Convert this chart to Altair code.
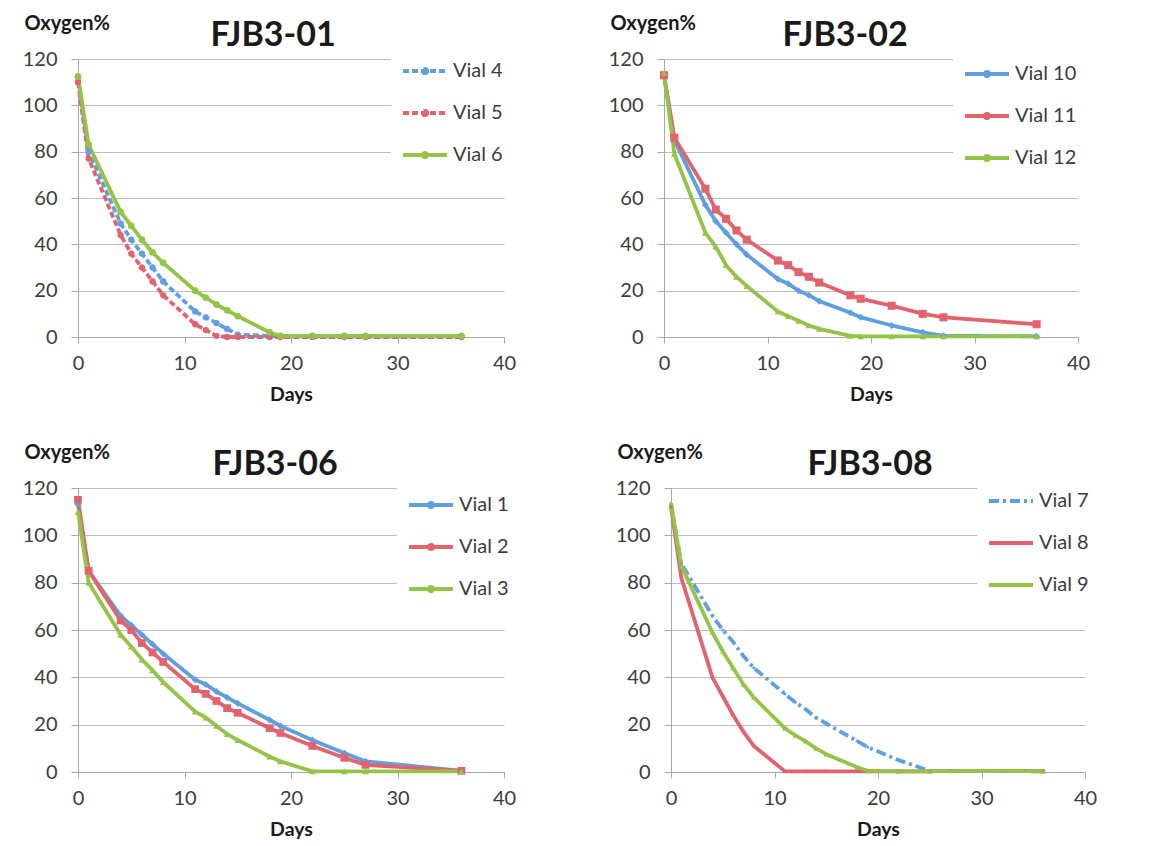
import altair as alt
import pandas as pd

days = [0, 1, 4, 5, 6, 7, 8, 11, 12, 13, 14, 15, 18, 19, 22, 25, 27, 36]

# FJB3-01
vial4 = [112, 80, 49, 42, 36, 30, 24, 11, 8.5, 6, 3.5, 1, 0.5, 0.3, 0.3, 0.3, 0.3, 0.3]
vial5 = [110, 77, 44, 36, 30, 24, 18, 5.5, 3, 0.5, 0, 0, 0, 0, 0, 0, 0, 0]
vial6 = [112.5, 83, 54, 48, 42, 36.5, 32, 20, 17, 14, 11.5, 9, 2, 0.5, 0.5, 0.5, 0.5, 0.5]
# FJB3-02
vial10 = [113, 85, 57, 50, 45, 40, 35.5, 25, 23, 20, 18, 15.5, 10.5, 8.5, 5, 2, 0.5, 0.3]
vial11 = [113, 86, 64, 55, 51, 46, 42, 33, 31, 28, 26, 23.5, 18, 16.5, 13.5, 10, 8.5, 5.5]
vial12 = [114, 79, 45, 39, 31, 26, 22, 11, 9, 7, 5, 3.5, 0.5, 0.3, 0.3, 0.3, 0.3, 0.3]
# FJB3-06
vial1 = [113, 85, 66, 62, 58, 54, 50, 39, 37, 34, 31.5, 29, 22, 19.5, 13.5, 8, 4.5, 0.5]
vial2 = [115, 85, 64, 60, 54.5, 50.5, 46.5, 35, 33, 30, 27, 25, 18.5, 16.5, 11, 6, 3, 0.5]
vial3 = [110, 80, 58, 53, 47.5, 43, 38, 25.5, 23, 19.5, 16, 13.5, 6.5, 4.5, 0.3, 0.3, 0.3, 0.3]
# FJB3-08
vial7 = [113, 88, 66, 60, 55, 49, 44, 33, 29.5, 26.5, 23, 20.5, 13, 10.5, 5, 0.5, 0.5, 0.5]
vial8 = [112, 82, 40, 32, 24, 17, 11, 0.3, 0.3, 0.3, 0.3, 0.3, 0.3, 0.3, 0.3, 0.3, 0.5, 0.3]
vial9 = [113.5, 87, 59, 51, 44, 37, 31.5, 18.5, 15.5, 13, 10, 7.5, 2, 0.5, 0.3, 0.3, 0.5, 0.3]

titles = ["FJB3-01", "FJB3-02", "FJB3-06", "FJB3-08"]
names = [["Vial 4", "Vial 5", "Vial 6"], ["Vial 10", "Vial 11", "Vial 12"],
         ["Vial 1", "Vial 2", "Vial 3"], ["Vial 7", "Vial 8", "Vial 9"]]
series = [[vial4, vial5, vial6], [vial10, vial11, vial12],
          [vial1, vial2, vial3], [vial7, vial8, vial9]]
x_ticks = [0, 10, 20, 30, 40]
y_ticks = [0, 20, 40, 60, 80, 100, 120]

colors = ["#5f9fe0", "#e0636e", "#94c447"]
FONT = "Lato"
TXT = "#3c3c3c"

SOLID = [1, 0]
DASH = [6, 3]
DASHDOT = [10, 4, 3, 4]
dash_sets = [[DASH, DASH, SOLID], [SOLID, SOLID, SOLID], [SOLID, SOLID, SOLID], [DASHDOT, SOLID, SOLID]]
shape_sets = [["circle", "circle", "circle"], ["diamond", "square", "triangle-up"],
              ["diamond", "square", "triangle-up"], ["diamond", "square", "triangle-up"]]
size_sets = [[40, 40, 45], [50, 65, 45], [50, 60, 45], [14, 10, 30]]
legend_marker = ["circle", "circle", "circle", None]

PATHS = {
    "circle": "M-1,0H3M1.2,0A0.2,0.2,0,1,1,0.8,0A0.2,0.2,0,1,1,1.2,0Z",
    None: "M-1,0H3",
}
legend_xy = [(313, -11), (289, -8), (319, -6), (306, -10)]
title_dx = [-18, -26, -16, -8]
widths = [426, 414, 426, 414]
heights = [278, 278, 284, 284]


def panel(i):
    rows = []
    for n, vals in zip(names[i], series[i]):
        for d, v in zip(days, vals):
            rows.append({"day": d, "oxygen": v, "vial": n})
    df = pd.DataFrame(rows)
    lx, ly = legend_xy[i]
    leg = alt.Legend(
        title=None, orient="none", legendX=lx, legendY=ly,
        symbolType=PATHS[legend_marker[i]], symbolSize=484, symbolStrokeWidth=3.8,
        labelFont=FONT, labelFontSize=20, labelColor=TXT, labelOffset=26,
        rowPadding=19, padding=10, fillColor="white",
    )
    xenc = alt.X("day:Q", scale=alt.Scale(domain=[0, 40], nice=False),
                 axis=alt.Axis(values=x_ticks, title="Days", grid=False, tickSize=6, labelFlush=False,
                               labelPadding=10, titleY=63, titleBaseline="alphabetic"))
    yenc = alt.Y("oxygen:Q", scale=alt.Scale(domain=[0, 120], nice=False),
                 axis=alt.Axis(values=y_ticks, title="Oxygen%", titleAngle=0, titleAlign="left",
                               titleBaseline="alphabetic", titleX=-54, titleY=-30,
                               grid=True, tickSize=7, labelPadding=14))
    cscale = alt.Scale(domain=names[i], range=colors)
    line = alt.Chart(df).mark_line(strokeWidth=3.8).encode(
        x=xenc, y=yenc,
        color=alt.Color("vial:N", scale=cscale, legend=leg),
        strokeDash=alt.StrokeDash("vial:N", scale=alt.Scale(domain=names[i], range=dash_sets[i]), legend=leg),
    )
    layers = [line]
    for k, n in enumerate(names[i]):
        layers.append(
            alt.Chart(df).transform_filter(alt.datum.vial == n).mark_point(
                filled=True, opacity=1, color=colors[k], shape=shape_sets[i][k], size=size_sets[i][k]
            ).encode(x="day:Q", y="oxygen:Q")
        )
    return alt.layer(*layers).properties(
        width=widths[i], height=heights[i],
        title=alt.TitleParams(titles[i], fontSize=34, font=FONT, fontWeight="bold", color="#1a1a1a",
                              anchor="middle", dx=title_dx[i], offset=-40),
    )


p = [panel(i) for i in range(4)]
ind = dict(color="independent", strokeDash="independent")

chart = alt.vconcat(
    alt.hconcat(p[0], p[1], spacing=92).resolve_scale(**ind),
    alt.hconcat(p[2], p[3], spacing=96).resolve_scale(**ind),
    spacing=38,
    background="white",
    padding={"left": 14, "top": 5, "right": 5, "bottom": 0},
).resolve_scale(**ind).configure_view(stroke=None).configure_axis(
    labelFont=FONT, labelFontSize=20, labelColor=TXT,
    titleFont=FONT, titleFontSize=19.5, titleFontWeight="bold", titleColor="#1a1a1a",
    domainColor="#a8a8a8", tickColor="#a8a8a8", gridColor="#bcbcbc", gridWidth=1,
).configure_axisY(titleFontSize=20)

chart.save("out.html", embed_options={"renderer": "svg", "actions": False})
